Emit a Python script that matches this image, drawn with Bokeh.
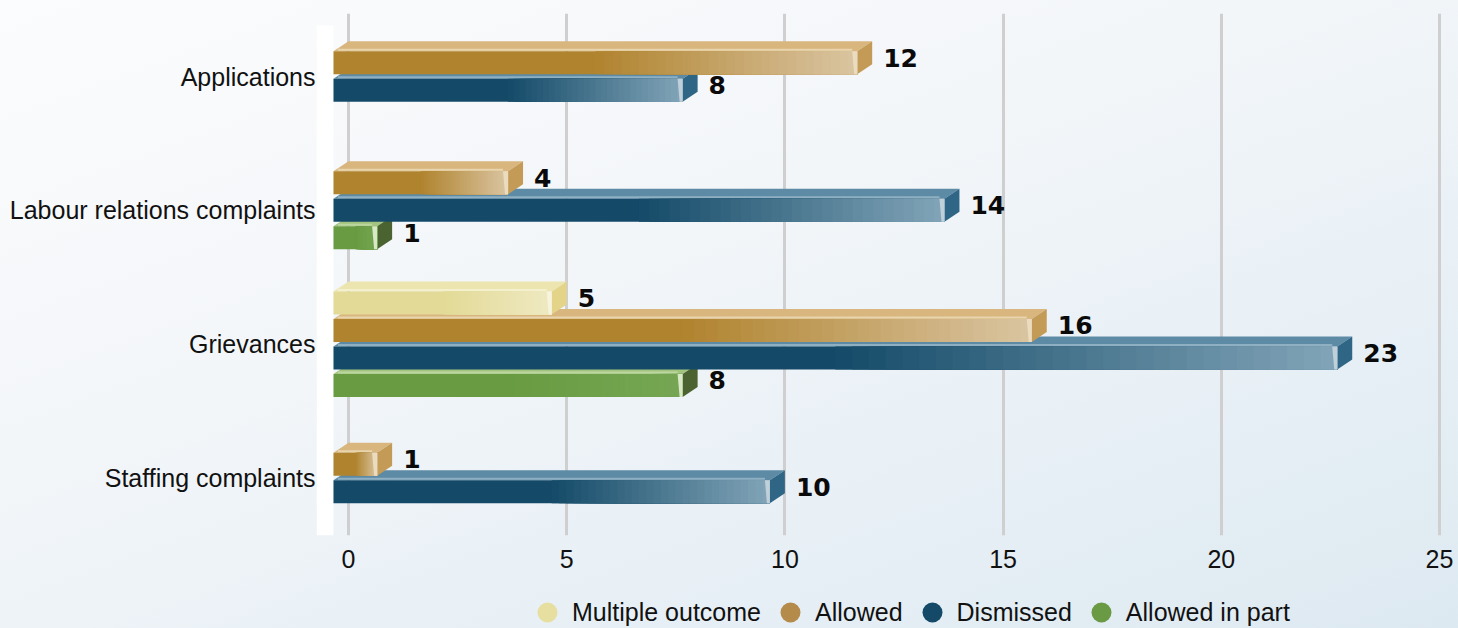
from bokeh.plotting import figure
from bokeh.models import Range1d, FixedTicker, ColumnDataSource, Legend, LegendItem
from bokeh.layouts import column
from bokeh.embed import file_html
from bokeh.resources import INLINE
from bokeh.core.properties import value

# ---------------- data ----------------
categories = ["Applications", "Labour relations complaints", "Grievances", "Staffing complaints"]
series = ["Multiple outcome", "Allowed", "Dismissed", "Allowed in part"]
multiple_outcome = [0, 0, 5, 0]
allowed = [12, 4, 16, 1]
dismissed = [8, 14, 23, 10]
allowed_in_part = [0, 1, 8, 0]
x_ticks = [0, 5, 10, 15, 20, 25]

values = {
    "Multiple outcome": multiple_outcome,
    "Allowed": allowed,
    "Dismissed": dismissed,
    "Allowed in part": allowed_in_part,
}

palette = {
    "Multiple outcome": dict(front="#e2da96", light="#efe9c2", top="#ece5b0", side="#e3d48a", bevel="#f7f3dc", hl="#f4efcc", legend="#e6dfa0"),
    "Allowed": dict(front="#b0832e", light="#dac5a2", top="#d8b67e", side="#c49b56", bevel="#ecdcbf", hl="#e8d4ad", legend="#b58b4c"),
    "Dismissed": dict(front="#144a68", light="#82a5b8", top="#5d8aa5", side="#2f6686", bevel="#bfd0da", hl="#8fb0c3", legend="#144a68"),
    "Allowed in part": dict(front="#689b42", light="#76a653", top="#a2c47e", side="#4a6331", bevel="#d9e8c6", hl="#bcd6a0", legend="#6a9a43"),
}

# ---------------- geometry (screen-derived constants) ----------------
PX_X = 43.64      # px per x unit
PX_Y = 133.8      # px per category
DX = 15 / PX_X    # 3D depth, horizontal
DY = 10 / PX_Y    # 3D depth, vertical
FH = 23 / PX_Y    # front face height
PITCH = 27.5 / PX_Y

p = figure(width=1458, height=590, output_backend="svg", toolbar_location=None,
           x_range=Range1d(-0.733, 25.435), y_range=Range1d(3.43, -0.471),
           min_border_left=316, min_border_right=0, min_border_top=13, min_border_bottom=55)

p.background_fill_color = None
p.border_fill_color = None
p.outline_line_color = None

# grid
p.ygrid.visible = False
p.xgrid.ticker = FixedTicker(ticks=x_ticks)
p.xgrid.grid_line_color = "#cfcfcf"
p.xgrid.grid_line_width = 3

# axes
p.xaxis.ticker = FixedTicker(ticks=x_ticks)
p.xaxis.axis_line_color = None
p.xaxis.major_tick_line_color = None
p.xaxis.minor_tick_line_color = None
p.xaxis.major_tick_out = 0
p.xaxis.major_tick_in = 0
p.xaxis.major_label_standoff = 14
p.xaxis.major_label_text_font = "Liberation Sans"
p.xaxis.major_label_text_font_size = "25px"
p.xaxis.major_label_text_color = "#111111"

p.yaxis.ticker = FixedTicker(ticks=list(range(len(categories))))
p.yaxis.major_label_overrides = {i: c for i, c in enumerate(categories)}
p.yaxis.axis_line_color = None
p.yaxis.major_tick_line_color = None
p.yaxis.minor_tick_line_color = None
p.yaxis.major_tick_out = 0
p.yaxis.major_tick_in = 0
p.yaxis.major_label_standoff = 1
p.yaxis.major_label_text_font = "Liberation Sans"
p.yaxis.major_label_text_font_size = "25px"
p.yaxis.major_label_text_color = "#111111"

# white left wall
p.quad(left=[p.x_range.start], right=[-DX], top=[-0.381], bottom=[p.y_range.start],
       fill_color="white", line_color=None)

# ---------------- build 3D bars ----------------
patch_xs, patch_ys, patch_col = [], [], []
fq = dict(left=[], right=[], top=[], bottom=[], color=[])
bevel_xs, bevel_ys, bevel_col = [], [], []
hl = dict(x0=[], x1=[], y=[], color=[])
lab = dict(x=[], y=[], text=[])

for i, cat in enumerate(categories):
    active = [(s, values[s][i]) for s in series if values[s][i] > 0]
    n = len(active)
    bars = []
    for k, (s, v) in enumerate(active):
        yc = i + (k - (n - 1) / 2) * PITCH
        yt = yc - FH / 2
        yb = yc + FH / 2
        bars.append((s, v, yt, yb))
    # top & side faces: lower bars first, upper bars drawn over them
    for s, v, yt, yb in reversed(bars):
        c = palette[s]
        x1 = v - DX
        patch_xs.append([-DX, x1, v, 0])
        patch_ys.append([yt, yt, yt - DY, yt - DY])
        patch_col.append(c["top"])
        patch_xs.append([x1, v, v, x1])
        patch_ys.append([yt, yt - DY, yb - DY, yb])
        patch_col.append(c["side"])
    for s, v, yt, yb in bars:
        c = palette[s]
        x0, x1 = -DX, v - DX
        g0 = x0 + 0.5 * (x1 - x0)
        fq["left"].append(x0); fq["right"].append(x1)
        fq["top"].append(yt); fq["bottom"].append(yb); fq["color"].append(c["front"])
        N = 30
        ca = tuple(int(c["front"][j:j + 2], 16) for j in (1, 3, 5))
        cb = tuple(int(c["light"][j:j + 2], 16) for j in (1, 3, 5))
        for j in range(N):
            t = (j + 0.5) / N
            col = "#%02x%02x%02x" % tuple(int(round(a + (b - a) * t)) for a, b in zip(ca, cb))
            l = g0 + (x1 - g0) * j / N
            fq["left"].append(l); fq["right"].append(x1)
            fq["top"].append(yt); fq["bottom"].append(yb); fq["color"].append(col)
        bw = 5 / PX_X
        bevel_xs.append([x1 - bw, x1, x1, x1 - 0.6 * bw])
        bevel_ys.append([yt, yt, yb, yb])
        bevel_col.append(c["bevel"])
        hl["x0"].append(x0 + 0.1); hl["x1"].append(x1 - bw); hl["y"].append(yt - 1.5 / PX_Y); hl["color"].append(c["hl"])
        lab["x"].append(v + 11 / PX_X)
        lab["y"].append(yt + 6.5 / PX_Y)
        lab["text"].append(str(v))

p.patches(xs="xs", ys="ys", fill_color="color", line_color=None,
          source=ColumnDataSource(dict(xs=patch_xs, ys=patch_ys, color=patch_col)))
p.segment(x0="x0", y0="y", x1="x1", y1="y", line_color="color", line_width=2, source=ColumnDataSource(hl))
p.quad(left="left", right="right", top="top", bottom="bottom", fill_color="color", line_color=None,
       source=ColumnDataSource(fq))
p.patches(xs="xs", ys="ys", fill_color="color", line_color=None,
          source=ColumnDataSource(dict(xs=bevel_xs, ys=bevel_ys, color=bevel_col)))
p.text(x="x", y="y", text="text", source=ColumnDataSource(lab),
       text_font=value("DejaVu Sans"), text_font_style="bold", text_font_size="25px",
       text_color="#0a0a0a", text_baseline="middle", text_align="left")

# ---------------- legend strip (separate figure below the chart) ----------------
pl = figure(width=1458, height=38, output_backend="svg", toolbar_location=None,
            x_range=Range1d(0, 1458), y_range=Range1d(0, 38), min_border=0)
pl.axis.visible = False
pl.grid.visible = False
pl.outline_line_color = None
pl.background_fill_color = None
pl.border_fill_color = None

items = []
for s in series:
    r = pl.scatter(x=[-100], y=[-100], marker="circle", size=20, fill_color=palette[s]["legend"], line_color=None)
    items.append(LegendItem(label=s, renderers=[r]))
legend = Legend(items=items, orientation="horizontal", glyph_width=50, glyph_height=50,
                label_standoff=0, spacing=4, padding=0, margin=0,
                label_text_font="Liberation Sans", label_text_font_size="25px",
                label_text_color="#111111", background_fill_alpha=0, border_line_alpha=0,
                location=(206, -9))
pl.add_layout(legend)

layout = column(p, pl, spacing=0)
layout.styles = {"background": "linear-gradient(160deg, #fbfcfd 0%, #f3f6f9 40%, #e6eff5 75%, #dde9f1 100%)"}

open("out.html", "w").write(file_html(layout, INLINE))
